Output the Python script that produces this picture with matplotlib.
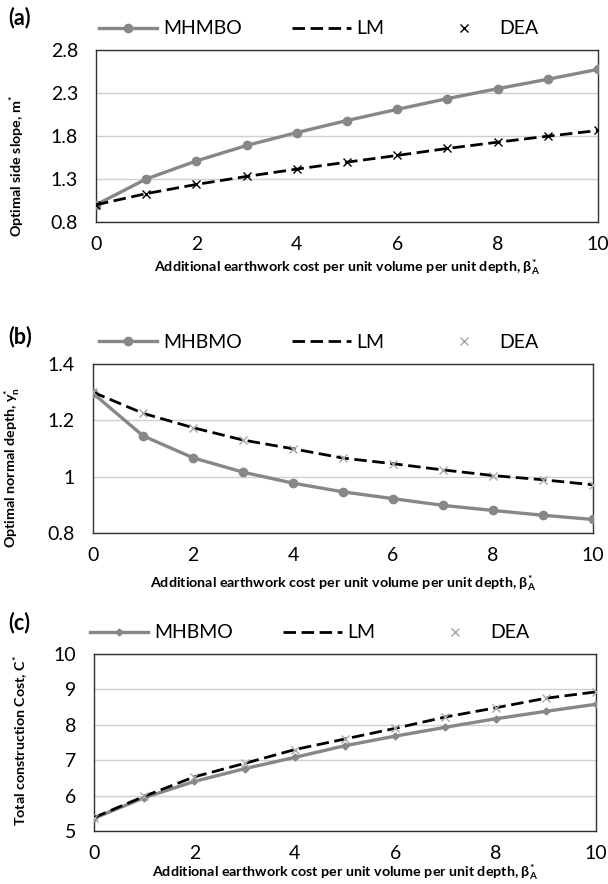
import numpy as np
import matplotlib

matplotlib.use("Agg")
import matplotlib.pyplot as plt

plt.rcParams["font.family"] = ["Lato", "DejaVu Sans"]
plt.rcParams["mathtext.fontset"] = "custom"
plt.rcParams["mathtext.rm"] = "Lato:bold"
plt.rcParams["mathtext.it"] = "Lato:bold"
plt.rcParams["mathtext.bf"] = "Lato:bold"

# 数据
beta = np.arange(0, 11)

slope_mhbmo = [1.00, 1.30, 1.51, 1.69, 1.84, 1.98, 2.11, 2.235, 2.35, 2.46, 2.575]
slope_lm = [1.00, 1.13, 1.237, 1.33, 1.415, 1.496, 1.574, 1.655, 1.728, 1.798, 1.864]
slope_dea = [1.00, 1.13, 1.237, 1.33, 1.415, 1.496, 1.574, 1.655, 1.728, 1.798, 1.864]

depth_mhbmo = [1.296, 1.145, 1.067, 1.016, 0.977, 0.946, 0.922, 0.898, 0.880, 0.863, 0.848]
depth_lm = [1.300, 1.225, 1.174, 1.130, 1.099, 1.066, 1.046, 1.024, 1.004, 0.989, 0.971]
depth_dea = [1.300, 1.225, 1.174, 1.130, 1.099, 1.066, 1.046, 1.024, 1.004, 0.989, 0.971]

cost_mhbmo = [5.36, 5.94, 6.40, 6.76, 7.08, 7.41, 7.68, 7.93, 8.17, 8.38, 8.58]
cost_lm = [5.38, 5.98, 6.53, 6.91, 7.30, 7.60, 7.90, 8.22, 8.48, 8.75, 8.93]
cost_dea = [5.38, 5.98, 6.53, 6.91, 7.30, 7.60, 7.90, 8.22, 8.48, 8.75, 8.93]

x_ticks = [0, 2, 4, 6, 8, 10]
slope_ticks = [0.8, 1.3, 1.8, 2.3, 2.8]
slope_ticklabels = ["0.8", "1.3", "1.8", "2.3", "2.8"]
depth_ticks = [0.8, 1.0, 1.2, 1.4]
depth_ticklabels = ["0.8", "1", "1.2", "1.4"]
cost_ticks = [5, 6, 7, 8, 9, 10]
cost_ticklabels = ["5", "6", "7", "8", "9", "10"]

GRAY = "#878787"
LIGHT = "#a6a6a6"
W, H = 608, 884
XLABEL = r"Additional earthwork cost per unit volume per unit depth, β$_{A}^{*}$"


def fx(px):
    return px / W


def fy(py):
    return 1 - py / H


fig = plt.figure(figsize=(6.08, 8.84), dpi=100)


def draw_panel(rect, mh, lm, dea, mh_label, mh_marker, mh_ms, dea_color,
               yticks, yticklabels, ylim, ylabel, tag, tag_y, ylab_pos,
               xlab_y, leg_pos):
    ax = fig.add_axes([fx(rect[0]), fy(rect[3]), fx(rect[2] - rect[0]),
                       (rect[3] - rect[1]) / H])
    ax.plot(beta, mh, color=GRAY, linewidth=2.4, marker=mh_marker,
            markersize=mh_ms, label=mh_label, zorder=3)
    ax.plot(beta, lm, color="black", linewidth=2.0, linestyle=(0, (4.5, 2.0)),
            label="LM", zorder=4)
    ax.plot(beta, dea, linestyle="none", marker="x", color=dea_color,
            markersize=6, markeredgewidth=1.0, label="DEA", zorder=5)

    ax.set_xlim(0, 10)
    ax.set_ylim(*ylim)
    ax.set_xticks(x_ticks)
    ax.set_yticks(yticks)
    ax.set_yticklabels(yticklabels)
    ax.tick_params(length=0, labelsize=14, pad=13)
    ax.tick_params(axis="x", pad=10)
    ax.grid(True, axis="y", color="#d0d0d0", linewidth=1.0)
    ax.set_axisbelow(True)
    for sp in ax.spines.values():
        sp.set_color("#303030")
        sp.set_linewidth(1.0)

    fig.text(fx(8), fy(tag_y), tag, fontsize=15.5, fontweight="bold",
             va="center", ha="left")
    fig.text(fx(ylab_pos[0]), fy(ylab_pos[1]), ylabel, rotation=90,
             fontsize=10.3, fontweight="bold", ha="center", va="center")
    fig.text(fx((rect[0] + rect[2]) / 2), fy(xlab_y), XLABEL,
             fontsize=10.3, fontweight="bold", ha="center", va="center")

    ax.legend(loc="center left", bbox_to_anchor=(fx(leg_pos[0]), fy(leg_pos[1])),
              bbox_transform=fig.transFigure, ncol=3, frameon=False,
              borderpad=0, borderaxespad=0, handlelength=3.0,
              handletextpad=0.3, columnspacing=2.6, fontsize=14)
    return ax


# (a) 最优边坡
draw_panel((96, 50, 598, 222), slope_mhbmo, slope_lm, slope_dea, "MHMBO",
           "o", 6, "black", slope_ticks, slope_ticklabels, (0.8, 2.8),
           r"Optimal side slope, m$^{*}$", "(a)", 18, (17, 166), 267, (99, 29))

# (b) 最优正常水深
draw_panel((93, 364, 593, 533), depth_mhbmo, depth_lm, depth_dea, "MHBMO",
           "o", 6, LIGHT, depth_ticks, depth_ticklabels, (0.8, 1.4),
           r"Optimal normal depth, y$_{n}^{*}$", "(b)", 337, (12, 467), 583,
           (99, 342))

# (c) 总建设成本
draw_panel((94, 654, 596, 831), cost_mhbmo, cost_lm, cost_dea, "MHBMO",
           "D", 3.5, LIGHT, cost_ticks, cost_ticklabels, (5, 10),
           r"Total construction Cost, C$^{*}$", "(c)", 623, (21, 740), 872,
           (90, 633))

fig.savefig("out.png", dpi=100)
plt.close(fig)
